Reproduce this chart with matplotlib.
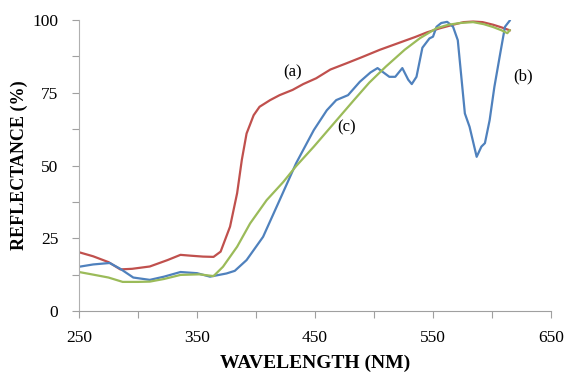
import matplotlib
matplotlib.use("Agg")
import matplotlib.pyplot as plt
from matplotlib.ticker import MultipleLocator

# Curve (a) - red
wl_a = [250, 262, 275, 285, 295, 310, 325, 336, 345, 355, 364, 370, 378, 384, 388, 392, 398, 403, 412, 420, 431, 440, 451, 463, 477, 490, 505, 520, 535, 545, 556, 567, 576, 584, 592, 601, 608, 615]
ref_a = [20.2, 18.8, 16.8, 14.3, 14.5, 15.3, 17.5, 19.3, 19.0, 18.7, 18.6, 20.4, 29.0, 40.5, 52.0, 61.0, 67.3, 70.2, 72.5, 74.2, 76.0, 78.0, 80.0, 83.0, 85.2, 87.3, 89.8, 92.0, 94.2, 95.8, 97.2, 98.4, 99.3, 99.5, 99.3, 98.4, 97.5, 96.5]

# Curve (b) - blue
wl_b = [250, 262, 276, 285, 296, 310, 322, 336, 350, 361, 375, 382, 392, 406, 420, 434, 449, 460, 468, 478, 488, 497, 503, 508, 513, 518, 524, 529, 532, 536, 541, 547, 550, 553, 557, 562, 567, 571, 574, 577, 581, 587, 591, 594, 598, 602, 607, 611, 615]
ref_b = [15.2, 16.0, 16.5, 14.5, 11.5, 10.7, 11.8, 13.4, 13.0, 11.8, 12.9, 13.8, 17.5, 25.5, 38.1, 50.8, 62.2, 69.0, 72.5, 74.2, 78.8, 82.0, 83.5, 82.0, 80.5, 80.5, 83.5, 79.5, 78.0, 80.5, 90.5, 93.7, 94.3, 97.7, 99.0, 99.4, 97.7, 93.1, 80.5, 67.9, 63.3, 53.0, 56.5, 57.7, 65.6, 77.0, 88.6, 97.7, 99.8]

# Curve (c) - green
wl_c = [250, 262, 275, 287, 300, 310, 322, 336, 352, 364, 372, 384, 395, 409, 423, 434, 449, 466, 483, 496, 510, 526, 539, 553, 563, 573, 584, 593, 601, 608, 613, 615]
ref_c = [13.4, 12.5, 11.5, 10.0, 10.0, 10.1, 11.0, 12.4, 12.6, 12.0, 15.2, 22.1, 30.1, 38.1, 44.3, 49.8, 56.5, 64.5, 72.5, 78.5, 84.0, 89.8, 93.8, 97.2, 98.4, 99.0, 99.3, 98.6, 97.6, 96.5, 95.5, 96.5]

labels = ["(a)", "(b)", "(c)"]
label_pos_x = [431, 626, 477]
label_pos_y = [82, 80.5, 63]

x_ticks = [250, 350, 450, 550, 650]
y_ticks = [0, 25, 50, 75, 100]

plt.rcParams['font.family'] = ['Liberation Serif', 'DejaVu Serif']

fig = plt.figure(figsize=(5.66, 3.72), dpi=100)
ax = fig.add_axes([0.1396, 0.164, 0.8339, 0.782])

ax.plot(wl_a, ref_a, color='#C0504D', lw=1.6)
ax.plot(wl_b, ref_b, color='#4F81BD', lw=1.6)
ax.plot(wl_c, ref_c, color='#9BBB59', lw=1.6)

for t, xx, yy in zip(labels, label_pos_x, label_pos_y):
    ax.text(xx, yy, t, fontsize=12, ha='center', va='center')

ax.set_xlim(250, 650)
ax.set_ylim(0, 100)
ax.set_xticks(x_ticks)
ax.set_yticks(y_ticks)
ax.xaxis.set_minor_locator(MultipleLocator(50))
ax.yaxis.set_minor_locator(MultipleLocator(12.5))
ax.tick_params(which='both', direction='out', color='#A0A0A0', width=0.8)
ax.tick_params(which='major', length=5, labelsize=12.5)
ax.tick_params(which='minor', length=5)
ax.tick_params(axis='x', pad=9)
ax.tick_params(axis='y', pad=10)
for s in ['top', 'right']:
    ax.spines[s].set_visible(False)
ax.spines['left'].set_color('#B0B0B0')
ax.spines['bottom'].set_color('#A0A0A0')

ax.set_xlabel('WAVELENGTH (NM)', fontsize=14, fontweight='bold', labelpad=6)
ax.set_ylabel('REFLECTANCE (%)', fontsize=13, fontweight='bold', labelpad=3)

fig.savefig('out.png', dpi=100)
